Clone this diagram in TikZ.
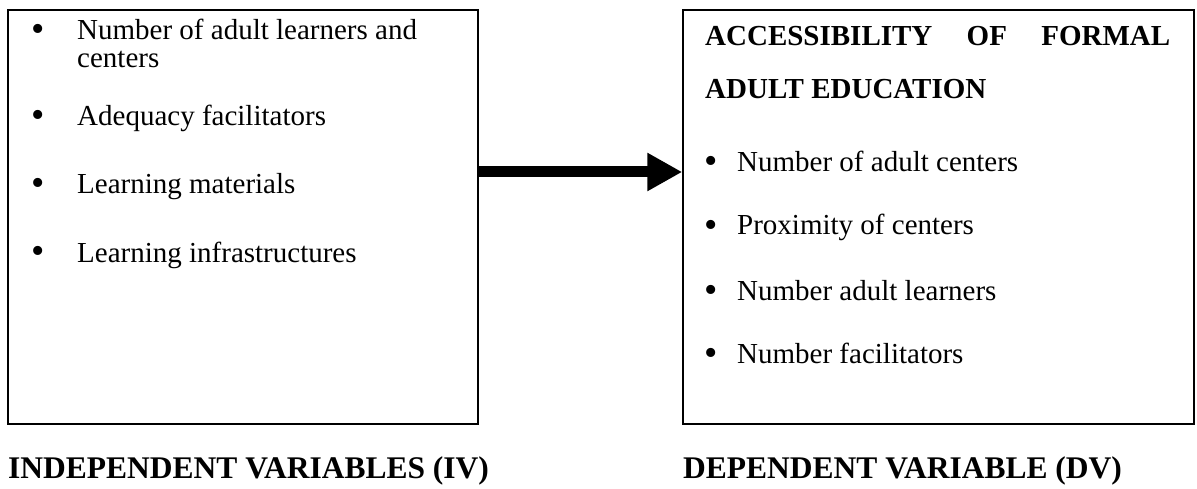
\documentclass[tikz,border=0pt]{standalone}
\usepackage{fontspec}
\setmainfont{Liberation Serif}
\usetikzlibrary{arrows.meta}
\begin{document}
\begin{tikzpicture}[x=1pt,y=-1pt,
  box/.style={draw, line width=1.5pt, inner sep=0pt},
  txt/.style={anchor=base west, inner sep=0pt, font=\fontsize{29pt}{34pt}\selectfont},
  bul/.style={anchor=base, inner sep=0pt, font=\fontsize{38pt}{40pt}\selectfont},
  head/.style={anchor=north west, inner sep=0pt, text width=465pt, align=justify, font=\bfseries\fontsize{29pt}{53pt}\selectfont},
  lab/.style={anchor=base west, inner sep=0pt, font=\bfseries\fontsize{31.5pt}{36pt}\selectfont},
  bigarrow/.style={line width=11pt, -{Triangle[length=35pt,width=36pt]}}]
\useasboundingbox (0,0) rectangle (1197,489);
\node[box, minimum width=470pt, minimum height=414pt] (L) at (243,217) {};
\node[box, minimum width=511pt, minimum height=414pt] (R) at (938.5,217) {};
% left items
\node[bul] (lb1) at (38,42) {•};
\node[txt] (lt1) at (77,40) {Number of adult learners and};
\node[txt] (lt1b) at (77,68) {centers};
\node[bul] (lb2) at (38,128) {•};
\node[txt] (lt2) at (77,126) {Adequacy facilitators};
\node[bul] (lb3) at (38,196) {•};
\node[txt] (lt3) at (77,194) {Learning materials};
\node[bul] (lb4) at (38,264) {•};
\node[txt] (lt4) at (77,262) {Learning infrastructures};
% right heading
\node[head] (rh) at (705,26) {ACCESSIBILITY OF FORMAL ADULT EDUCATION};
% right items
\node[bul] (rb1) at (711,174) {•};
\node[txt] (rt1) at (737,172) {Number of adult centers};
\node[bul] (rb2) at (711,237) {•};
\node[txt] (rt2) at (737,235) {Proximity of centers};
\node[bul] (rb3) at (711,302) {•};
\node[txt] (rt3) at (737,300) {Number adult learners};
\node[bul] (rb4) at (711,365) {•};
\node[txt] (rt4) at (737,363) {Number facilitators};
% arrow
\coordinate (ay) at (0,172);
\draw[bigarrow] (L.east |- ay) -- (R.west |- ay);
% labels
\node[lab] (iv) at (8,478) {INDEPENDENT VARIABLES (IV)};
\node[lab] (dv) at (683,478) {DEPENDENT VARIABLE (DV)};
\end{tikzpicture}
\end{document}
